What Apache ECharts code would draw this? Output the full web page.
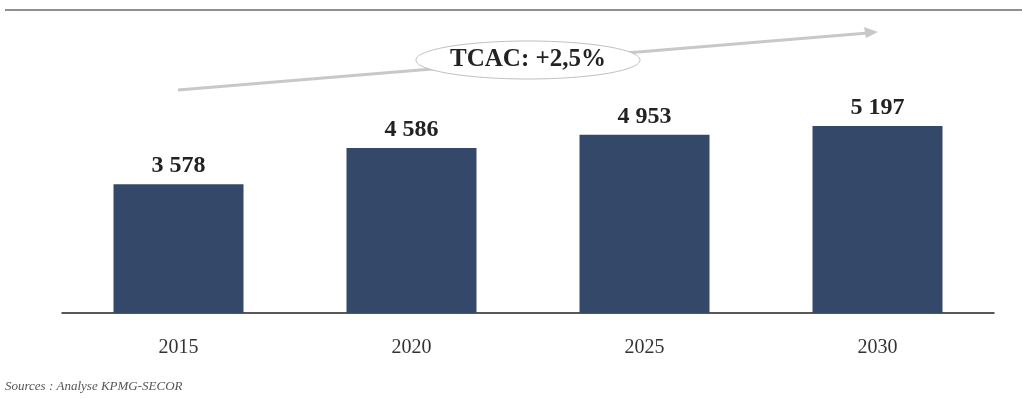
<!DOCTYPE html>
<html><head><meta charset="utf-8">
<script src="https://cdn.jsdelivr.net/npm/echarts@6/dist/echarts.min.js"></script>
<style>html,body{margin:0;padding:0;background:#fff}#c{width:1022px;height:404px}</style>
</head><body><div id="c"></div>
<script>
const categories = ['2015', '2020', '2025', '2030'];
const values = [3578, 4586, 4953, 5197];
const cagrLabel = 'TCAC: +2,5%';
const sourceText = 'Sources : Analyse KPMG-SECOR';

const fmt = v => String(v).replace(/\B(?=(\d{3})+(?!\d))/g, ' ');
const chart = echarts.init(document.getElementById('c'));
chart.setOption({
  backgroundColor: '#fff',
  animation: false,
  grid: { left: 62, right: 28, top: 97, bottom: 91 },
  xAxis: {
    type: 'category', data: categories,
    axisLine: { lineStyle: { color: '#222', width: 1.5 } },
    axisTick: { show: false },
    axisLabel: { color: '#333', fontFamily: 'Liberation Serif', fontSize: 20, margin: 25 }
  },
  yAxis: { type: 'value', min: 0, max: 6000, show: false, splitLine: { show: false } },
  series: [{
    type: 'bar', data: values, barWidth: 130,
    itemStyle: { color: '#34496a' },
    label: { show: true, position: 'top', distance: 6, formatter: p => fmt(p.value),
      color: '#222', fontFamily: 'Liberation Serif', fontWeight: 'bold', fontSize: 24 }
  }],
  graphic: [
    { type: 'line', shape: { x1: 5, y1: 10, x2: 1022, y2: 10 }, style: { stroke: '#8a8f99', lineWidth: 2 } },
    { type: 'line', shape: { x1: 178, y1: 90, x2: 868, y2: 33 }, style: { stroke: '#c8c8c8', lineWidth: 3 } },
    { type: 'polygon', shape: { points: [[878, 32], [864, 27], [866, 38]] }, style: { fill: '#c8c8c8' } },
    { type: 'ellipse', shape: { cx: 528, cy: 60, rx: 112, ry: 19 }, style: { fill: '#fff', stroke: '#c0c0c0', lineWidth: 1 } },
    { type: 'text', x: 528, y: 60, style: { text: cagrLabel, align: 'center', verticalAlign: 'middle',
      font: 'bold 25px "Liberation Serif"', fill: '#222' } },
    { type: 'text', x: 5, y: 387, style: { text: sourceText, align: 'left', verticalAlign: 'middle',
      font: 'italic 13px "Liberation Serif"', fill: '#555' } }
  ]
});
</script></body></html>
